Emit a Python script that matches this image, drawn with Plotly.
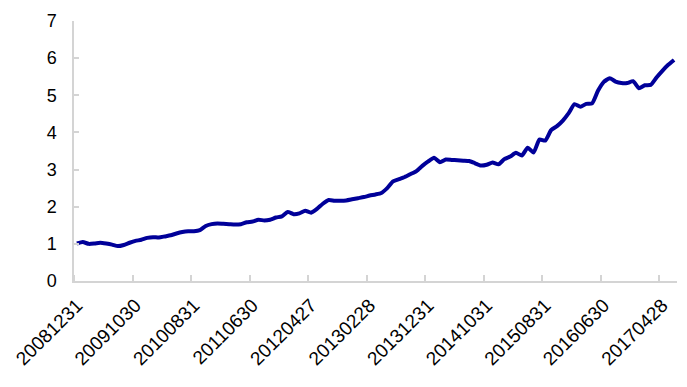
import pandas as pd
import plotly.graph_objects as go

# Month-end observation dates (Dec 2008 - Jun 2017)
tick_labels = ["20081231", "20091030", "20100831", "20110630", "20120427",
               "20130228", "20131231", "20141031", "20150831", "20160630", "20170428"]

dates = [d.strftime("%Y%m%d") for d in pd.date_range("2008-12-01", periods=103, freq="BME")]
for k, lab in enumerate(tick_labels):
    dates[k * 10] = lab

values = [
    1.01, 1.05, 1.00, 1.01, 1.03, 1.01, 0.98, 0.94, 0.97, 1.03,
    1.08, 1.11, 1.16, 1.18, 1.17, 1.20, 1.23, 1.28, 1.32, 1.34,
    1.34, 1.37, 1.48, 1.53, 1.55, 1.54, 1.53, 1.52, 1.53, 1.58,
    1.60, 1.65, 1.63, 1.65, 1.71, 1.74, 1.86, 1.80, 1.82, 1.89,
    1.84, 1.94, 2.08, 2.18, 2.16, 2.16, 2.17, 2.20, 2.23, 2.26,
    2.30, 2.33, 2.37, 2.50, 2.68, 2.74, 2.80, 2.88, 2.96, 3.10,
    3.22, 3.32, 3.20, 3.27, 3.26, 3.25, 3.24, 3.23, 3.17, 3.11,
    3.13, 3.19, 3.14, 3.28, 3.35, 3.45, 3.38, 3.59, 3.46, 3.81,
    3.78, 4.06, 4.17, 4.32, 4.52, 4.76, 4.69, 4.77, 4.78, 5.12,
    5.36, 5.46, 5.37, 5.33, 5.33, 5.38, 5.19, 5.27, 5.28, 5.48,
    5.66, 5.82, 5.95,
]

x_idx = list(range(len(dates)))
tick_pos = [dates.index(t) for t in tick_labels]

fig = go.Figure()
fig.add_trace(go.Scatter(
    x=x_idx, y=values, mode="lines",
    line=dict(color="#000099", width=4, shape="spline", smoothing=0.5),
    customdata=dates, hovertemplate="%{customdata}: %{y}<extra></extra>",
))

axis_gray = "#d4d4d4"
fig.update_layout(
    width=687, height=387,
    margin=dict(l=74, r=10, t=21, b=106),
    paper_bgcolor="white", plot_bgcolor="white",
    showlegend=False,
    font=dict(family="Liberation Sans, Arial, sans-serif", size=18, color="black"),
    xaxis=dict(
        range=[-0.5, len(dates) - 0.5],
        tickmode="array", tickvals=tick_pos, ticktext=tick_labels,
        tickangle=-45, ticks="", showgrid=False, zeroline=False,
        tickfont=dict(size=19), ticklabelstandoff=4,
        showline=True, linecolor=axis_gray, linewidth=1.5,
        minor=dict(tickmode="linear", tick0=-0.5, dtick=10, ticks="inside",
                   ticklen=6, tickcolor=axis_gray, tickwidth=1.5, showgrid=False),
    ),
    yaxis=dict(
        range=[0, 7], tickmode="linear", tick0=0, dtick=1,
        ticks="inside", ticklen=5, tickcolor=axis_gray, tickwidth=1.5,
        showgrid=False, zeroline=False,
        showline=True, linecolor=axis_gray, linewidth=1.5,
        ticklabelstandoff=12,
    ),
)

fig.write_html("out.html")
